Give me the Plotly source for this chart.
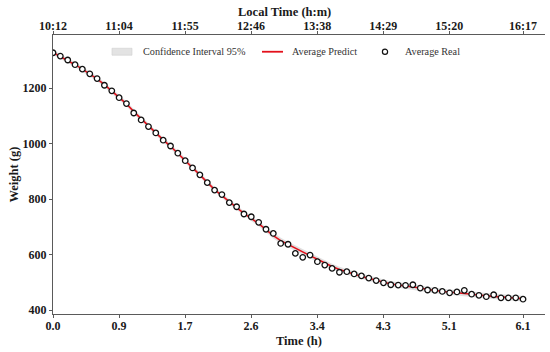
import plotly.graph_objects as go

# ---- data ----
time_h = [0.000, 0.095, 0.191, 0.286, 0.381, 0.477, 0.572, 0.667, 0.763, 0.858,
          0.953, 1.048, 1.144, 1.239, 1.334, 1.430, 1.525, 1.620, 1.716, 1.811,
          1.906, 2.002, 2.097, 2.192, 2.288, 2.383, 2.478, 2.573, 2.669, 2.764,
          2.859, 2.955, 3.050, 3.145, 3.241, 3.336, 3.431, 3.527, 3.622, 3.717,
          3.813, 3.908, 4.003, 4.098, 4.194, 4.289, 4.384, 4.480, 4.575, 4.670,
          4.766, 4.861, 4.956, 5.052, 5.147, 5.242, 5.338, 5.433, 5.528, 5.623,
          5.719, 5.814, 5.909, 6.005, 6.100]

weight_real = [1327, 1315, 1301, 1284, 1268, 1251, 1234, 1210, 1190, 1165,
               1144, 1110, 1085, 1061, 1038, 1012, 991, 965, 938, 912,
               887, 859, 832, 816, 787, 772, 746, 736, 716, 691,
               676, 640, 637, 604, 590, 598, 574, 562, 550, 536,
               538, 530, 523, 515, 506, 498, 491, 490, 489, 491,
               479, 472, 471, 467, 462, 465, 471, 457, 453, 448,
               455, 444, 444, 444, 439]

weight_pred = [1328, 1314, 1299, 1284, 1268, 1251, 1233, 1212, 1190, 1167,
               1143, 1115, 1089, 1063, 1038, 1013, 990, 965, 939, 913,
               887, 860, 834, 812, 789, 769, 748, 730, 711, 690,
               668, 650, 636, 622, 608, 596, 583, 569, 557, 546,
               537, 529, 521, 514, 507, 500, 494, 490, 487, 484,
               479, 474, 470, 467, 464, 462, 460, 457, 454, 451,
               449, 447, 445, 444, 441]

ci_half = [9, 9, 9, 9, 9, 9, 9, 9, 9, 9,
           9, 9, 9, 9, 9, 9, 9, 9, 9, 9,
           9, 9, 9, 9, 9, 9, 9, 9, 9, 9,
           10, 10, 10, 10, 10, 10, 10, 10, 10, 10,
           10, 10, 10, 10, 10, 10, 10, 10, 10, 10,
           10, 10, 10, 10, 10, 10, 10, 10, 10, 10,
           10, 10, 10, 10, 10]

tick_vals = [0.0, 0.857, 1.714, 2.571, 3.429, 4.286, 5.143, 6.1]
tick_hours = ["0.0", "0.9", "1.7", "2.6", "3.4", "4.3", "5.1", "6.1"]
tick_clock = ["10:12", "11:04", "11:55", "12:46", "13:38", "14:29", "15:20", "16:17"]
y_ticks = [400, 600, 800, 1000, 1200]

legend_labels = ["Confidence Interval 95%", "Average Predict", "Average Real"]

ci_upper = [p + h for p, h in zip(weight_pred, ci_half)]
ci_lower = [p - h for p, h in zip(weight_pred, ci_half)]

FONT = "Liberation Serif"
AXC = "#5a5a5a"
BAND = "rgba(205,205,205,0.6)"
RED = "#e3111b"

fig = go.Figure()

fig.add_trace(go.Scatter(
    x=time_h + time_h[::-1], y=ci_upper + ci_lower[::-1],
    fill="toself", fillcolor=BAND,
    line=dict(color="rgba(0,0,0,0)", width=0),
    name=legend_labels[0], hoverinfo="skip", showlegend=False))

fig.add_trace(go.Scatter(
    x=time_h, y=weight_pred, mode="lines",
    line=dict(color=RED, width=1.6),
    name=legend_labels[1], showlegend=False))

fig.add_trace(go.Scatter(
    x=time_h, y=weight_real, mode="markers",
    marker=dict(symbol="circle", size=5.5, color="white",
                line=dict(color="#111111", width=1.3)),
    name=legend_labels[2], showlegend=False))

# invisible trace to activate the top axis
fig.add_trace(go.Scatter(
    x=time_h, y=weight_real, mode="markers", xaxis="x2",
    marker=dict(opacity=0), showlegend=False, hoverinfo="skip"))

axis_common = dict(
    showgrid=False, zeroline=False, showline=True, linecolor=AXC, linewidth=1.2,
    ticks="outside", ticklen=3, tickwidth=1, tickcolor=AXC, automargin=False,
    tickfont=dict(family=FONT, size=12, color="#1a1a1a", weight="bold"),
)

xr = [0, 6.385]
title_font = dict(family=FONT, size=12.5, color="#1a1a1a", weight="bold")
leg_font = dict(family=FONT, size=10.2, color="#333333")

# ---- manual legend (paper coords) ----
LY = 0.94
shapes = [
    dict(type="rect", xref="paper", yref="paper", x0=0.1199, x1=0.1606,
         y0=LY - 0.0125, y1=LY + 0.0125, fillcolor="#e3e3e3",
         line=dict(color="#d0d0d0", width=0.6)),
    dict(type="line", xref="paper", yref="paper", x0=0.4248, x1=0.4675,
         y0=LY, y1=LY, line=dict(color=RED, width=1.8)),
    dict(type="circle", xref="paper", yref="paper", xsizemode="pixel",
         ysizemode="pixel", xanchor=0.6748, yanchor=LY, x0=-2.6, x1=2.6,
         y0=-2.6, y1=2.6, fillcolor="white", line=dict(color="#111111", width=1.2)),
]
annotations = [
    dict(text=legend_labels[0], x=0.1789, y=LY, xref="paper", yref="paper",
         xanchor="left", yanchor="middle", showarrow=False, font=leg_font),
    dict(text=legend_labels[1], x=0.4817, y=LY, xref="paper", yref="paper",
         xanchor="left", yanchor="middle", showarrow=False, font=leg_font),
    dict(text=legend_labels[2], x=0.7114, y=LY, xref="paper", yref="paper",
         xanchor="left", yanchor="middle", showarrow=False, font=leg_font),
    dict(text="Local Time (h:m)", x=0.4715, y=1.0824, xref="paper", yref="paper",
         xanchor="center", yanchor="middle", showarrow=False, font=title_font),
    dict(text="Time (h)", x=0.5, y=-0.0968, xref="paper", yref="paper",
         xanchor="center", yanchor="middle", showarrow=False, font=title_font),
    dict(text="Weight (g)", x=-0.0813, y=0.5, xref="paper", yref="paper",
         xanchor="center", yanchor="middle", showarrow=False, textangle=-90,
         font=title_font),
]

fig.update_layout(
    width=550, height=352,
    margin=dict(l=53, r=5, t=35, b=38, autoexpand=False),
    paper_bgcolor="white", plot_bgcolor="white",
    font=dict(family=FONT, color="#1a1a1a"),
    showlegend=False,
    shapes=shapes, annotations=annotations,
    xaxis=dict(range=xr, tickvals=tick_vals, ticktext=tick_hours,
               ticklabelstandoff=-3, **axis_common),
    xaxis2=dict(range=xr, tickvals=tick_vals, ticktext=tick_clock,
                overlaying="x", side="top", anchor="y",
                ticklabelstandoff=-4, **axis_common),
    yaxis=dict(range=[385.6, 1391], tickvals=y_ticks, **axis_common),
)

fig.write_html("out.html", config={"displayModeBar": False},
               post_script="document.body.style.margin='0';document.body.style.overflow='hidden';")
